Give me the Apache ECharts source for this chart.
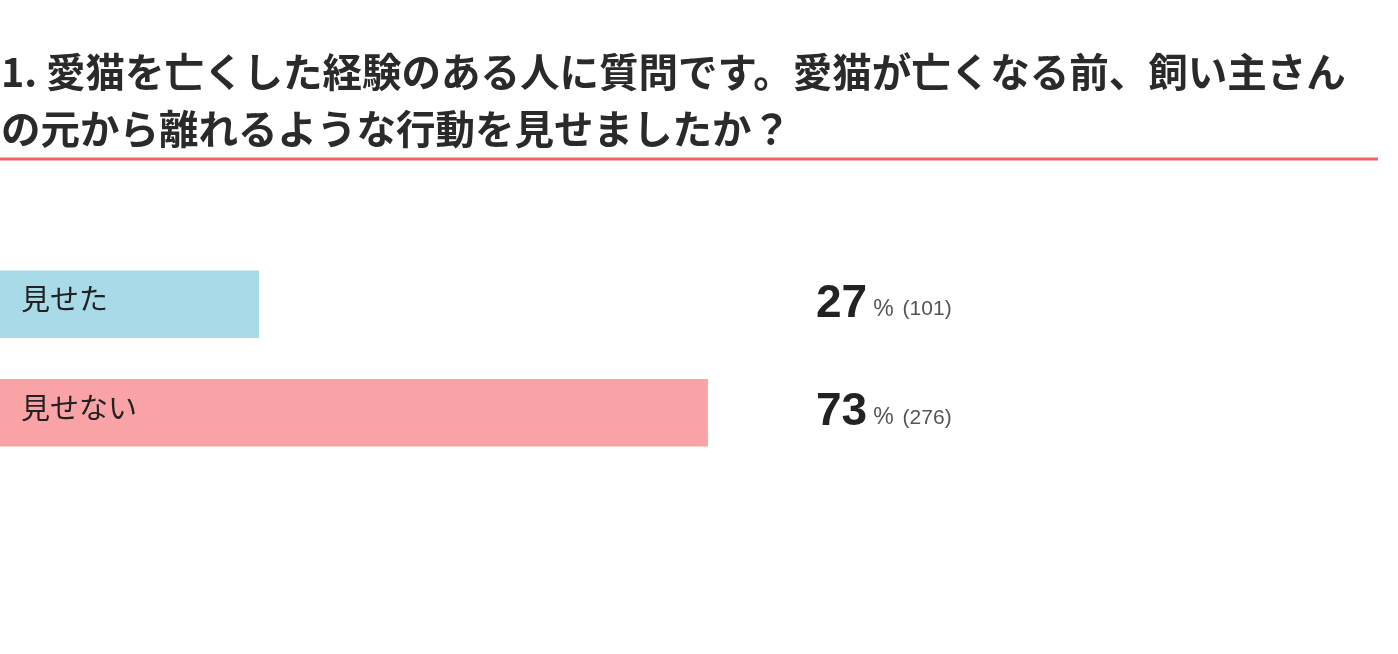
<!DOCTYPE html>
<html lang="ja">
<head>
    <meta charset="UTF-8">
    <title>愛猫アンケート</title>
    <script src="https://cdn.jsdelivr.net/npm/echarts@6/dist/echarts.min.js"></script>
    <style>
        html, body { margin: 0; padding: 0; background: #fff; }
        #main { width: 1398px; height: 654px; }
    </style>
</head>
<body>
<div id="main"></div>
<script type="text/javascript">
    // data
    var categories = ['見せた', '見せない'];
    var counts = [101, 276];
    var percents = [27, 73];
    var barColors = ['#a8dae7', '#f9a3a6'];
    var total = 377;

    var myChart = echarts.init(document.getElementById('main'));
    var font = '"Noto Sans CJK JP", "Noto Sans", sans-serif';
    var numFont = '"Liberation Sans", Arial, sans-serif';

    var option = {
        backgroundColor: '#fff',
        title: {
            text: '1. 愛猫を亡くした経験のある人に質問です。愛猫が亡くなる前、飼い主さん\nの元から離れるような行動を見せましたか？',
            left: 1,
            top: 43,
            padding: 0,
            textStyle: {
                fontFamily: font,
                fontSize: 39.5,
                fontWeight: 'bold',
                color: '#2a2a2a',
                lineHeight: 57
            }
        },
        graphic: [
            {
                type: 'line',
                shape: { x1: 0, y1: 159, x2: 1378, y2: 159 },
                style: { stroke: '#f06464', lineWidth: 3 }
            }
        ],
        grid: {
            left: 0,
            right: 431,
            top: 250,
            bottom: 187,
            containLabel: false
        },
        xAxis: {
            type: 'value',
            min: 0,
            max: total,
            show: false
        },
        yAxis: {
            type: 'category',
            inverse: true,
            data: categories,
            show: false
        },
        series: [
            {
                type: 'bar',
                barCategoryGap: '38%',
                silent: true,
                data: counts.map(function (v, i) {
                    return { value: v, itemStyle: { color: barColors[i] } };
                }),
                label: {
                    show: true,
                    position: 'insideLeft',
                    distance: 21,
                    offset: [0, -5],
                    formatter: '{b}',
                    fontFamily: font,
                    fontSize: 29,
                    color: '#222'
                }
            },
            {
                type: 'bar',
                barGap: '-100%',
                silent: true,
                data: counts,
                itemStyle: { color: 'rgba(0,0,0,0)' },
                label: {
                    show: true,
                    position: [816, '50%'],
                    verticalAlign: 'middle',
                    formatter: function (p) {
                        return '{big|' + percents[p.dataIndex] + '}{pct|%}{cnt|(' + counts[p.dataIndex] + ')}';
                    },
                    rich: {
                        big: {
                            fontFamily: numFont,
                            fontSize: 46,
                            fontWeight: 'bold',
                            color: '#222',
                            padding: [0, 6, 0, 0]
                        },
                        pct: {
                            fontFamily: numFont,
                            fontSize: 23,
                            color: '#555',
                            padding: [10, 9, 0, 0]
                        },
                        cnt: {
                            fontFamily: numFont,
                            fontSize: 21,
                            color: '#555',
                            padding: [10, 0, 0, 0]
                        }
                    }
                }
            }
        ]
    };
    myChart.setOption(option);
</script>
</body>
</html>
